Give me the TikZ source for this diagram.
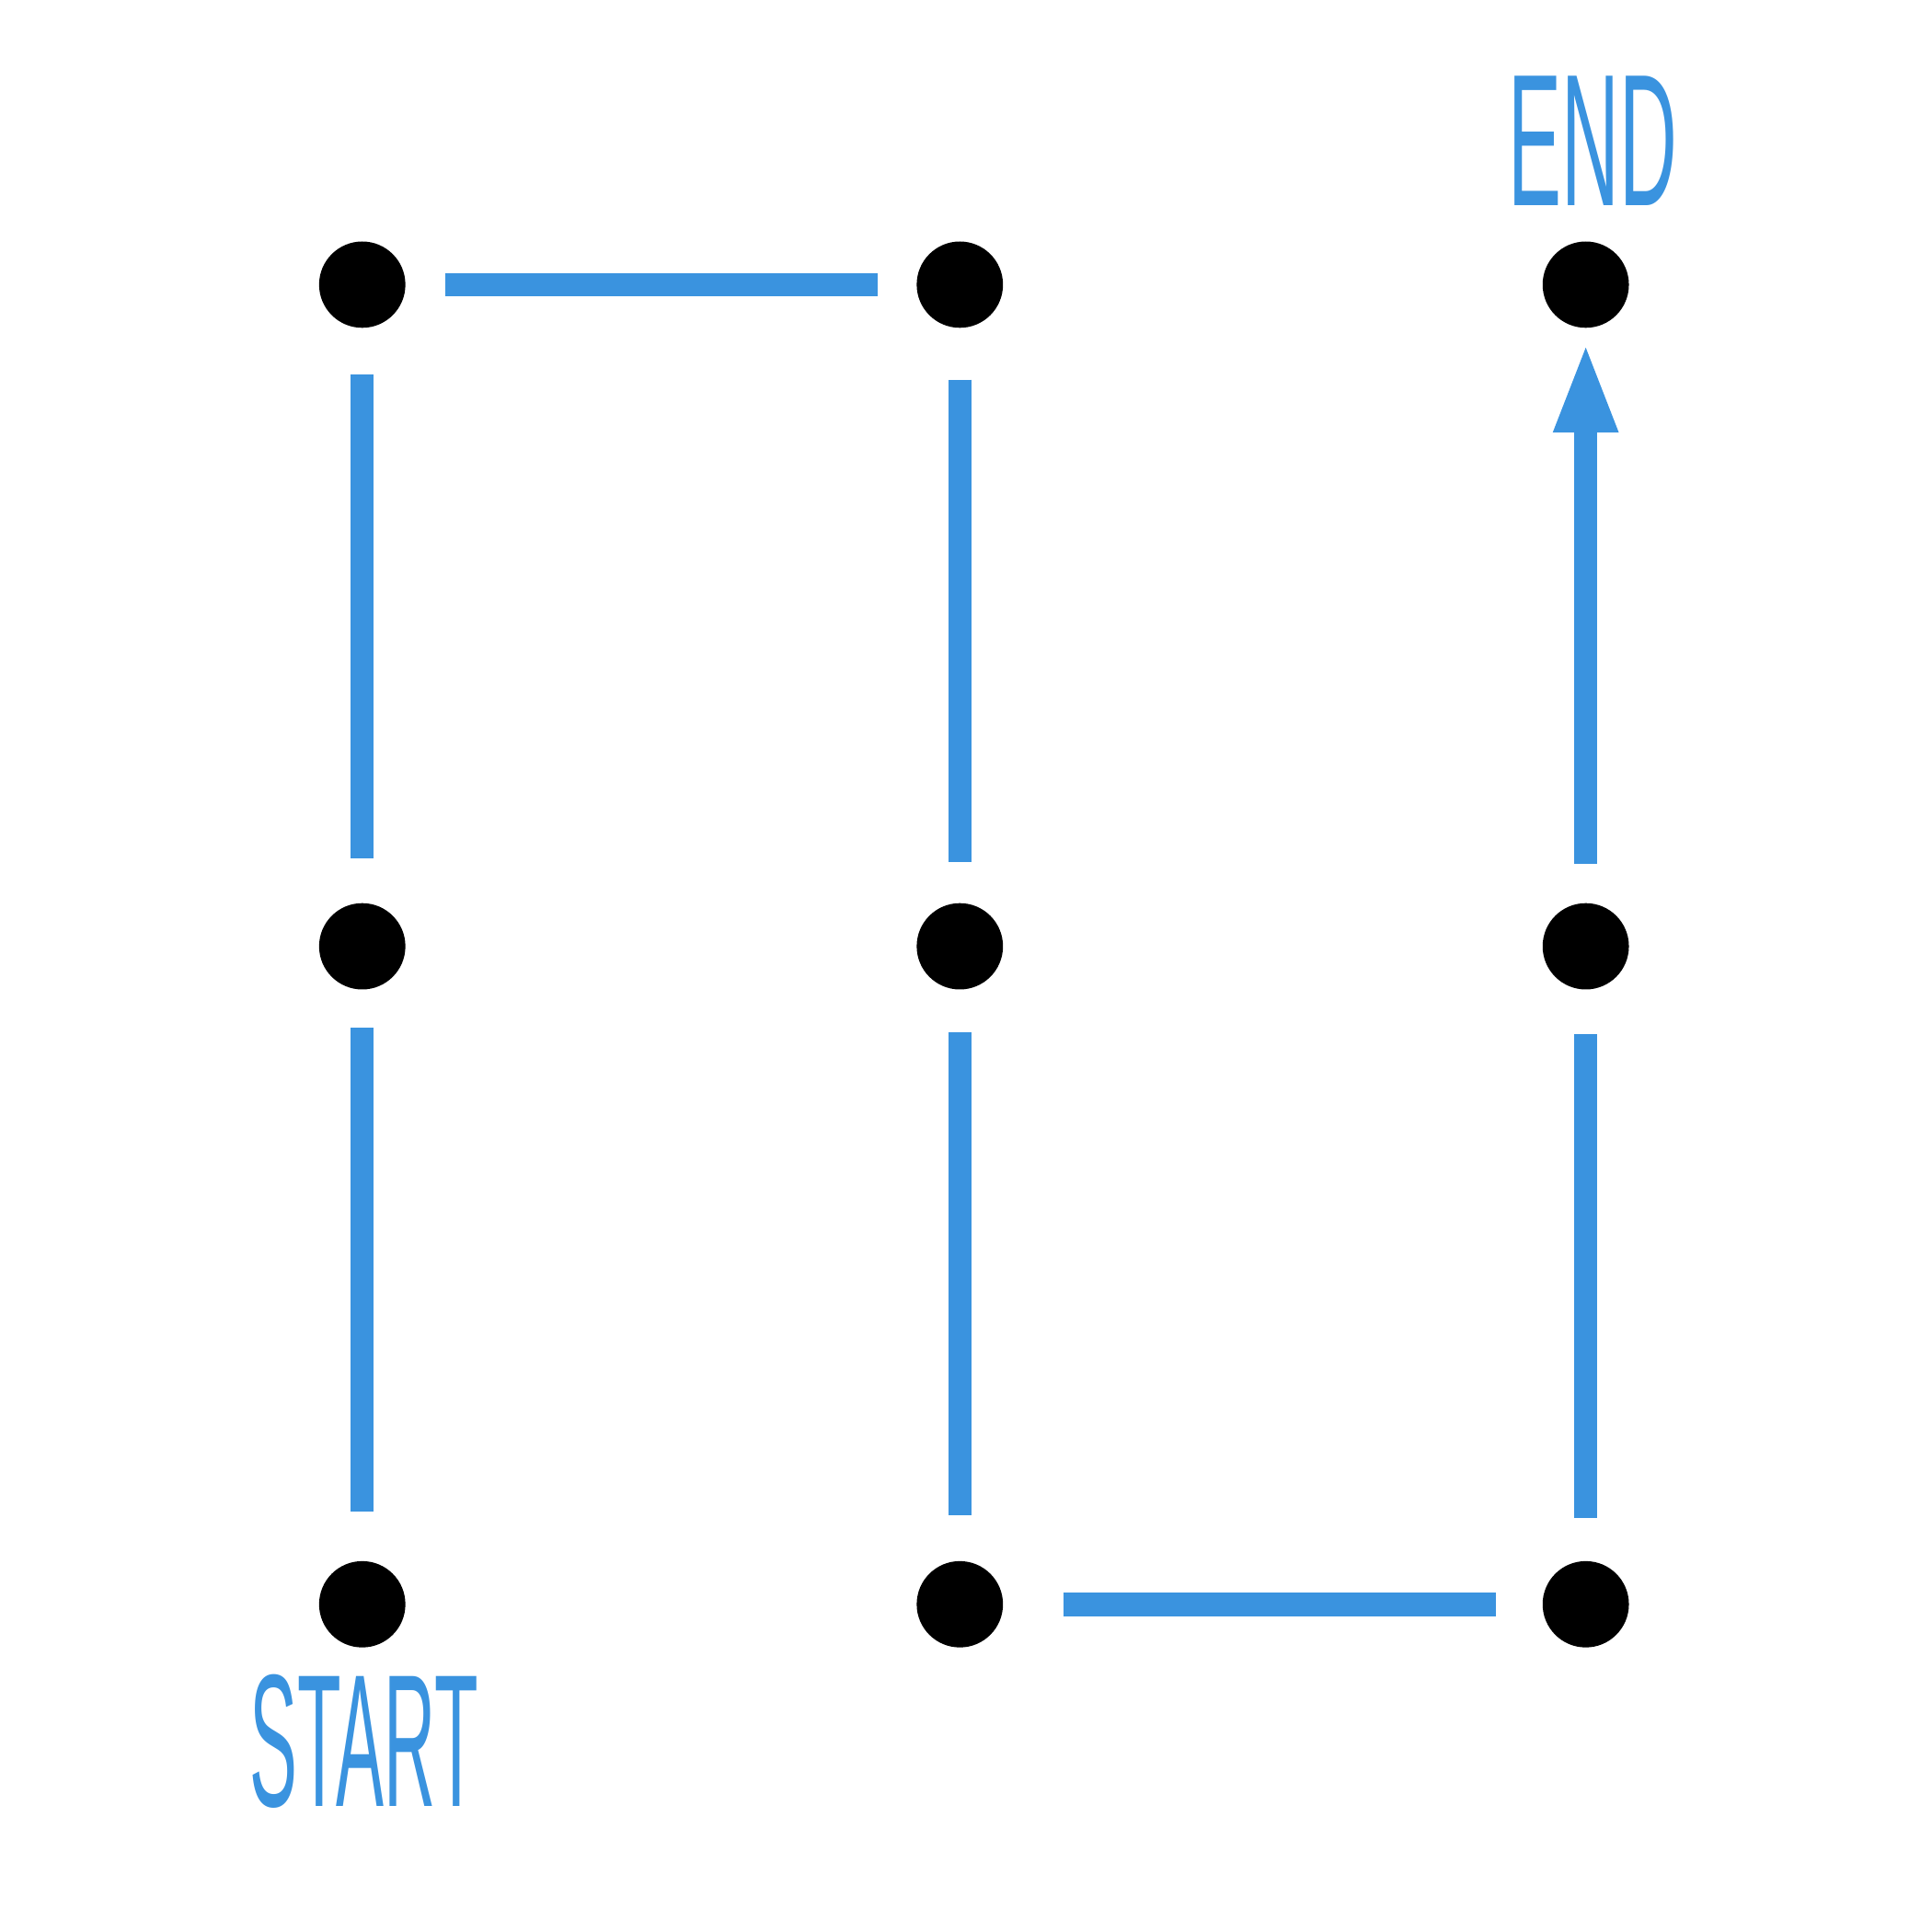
\documentclass[tikz,border=0pt]{standalone}
\usepackage{graphicx}
\usepackage{fontspec}
\setmainfont{Liberation Sans}
\usetikzlibrary{arrows.meta}
\definecolor{pathblue}{RGB}{58,147,223}
\begin{document}
\begin{tikzpicture}[x=0.01cm,y=-0.01cm,
  dot/.style={circle,fill=black,inner sep=0pt,outer sep=0pt,minimum size=0.7cm},
  conn/.style={draw=pathblue,line width=0.19cm},
  lbl/.style={text=pathblue,inner sep=0pt}]
\useasboundingbox (0,0) rectangle (1568,1568);
% dots
\node[dot] (t1) at (294,231) {};
\node[dot] (t2) at (779,231) {};
\node[dot] (t3) at (1287,231) {};
\node[dot] (m1) at (294,768) {};
\node[dot] (m2) at (779,768) {};
\node[dot] (m3) at (1287,768) {};
\node[dot] (b1) at (294,1302) {};
\node[dot] (b2) at (779,1302) {};
\node[dot] (b3) at (1287,1302) {};
% connectors
\draw[conn,shorten <=0.32cm,shorten >=0.32cm] (t1) -- (t2);
\draw[conn,shorten <=0.38cm,shorten >=0.36cm] (t1) -- (m1);
\draw[conn,shorten <=0.42cm,shorten >=0.33cm] (t2) -- (m2);
\draw[conn,shorten <=0.31cm,shorten >=0.40cm] (m1) -- (b1);
\draw[conn,shorten <=0.35cm,shorten >=0.37cm] (m2) -- (b2);
\draw[conn,shorten <=0.49cm,shorten >=0.38cm] (b2) -- (b3);
\draw[conn,shorten <=0.35cm,shorten >=0.36cm] (b3) -- (m3);
\draw[conn,shorten <=0.32cm,shorten >=0.11cm,-{Triangle[length=0.74cm,width=0.47cm]}] (m3) -- (t3);
% labels
\node[lbl] (endlbl) at (1293,114.5) {\resizebox{1.37cm}{1.05cm}{END}};
\node[lbl] (startlbl) at (295.5,1413.5) {\resizebox{1.85cm}{1.07cm}{START}};
\end{tikzpicture}
\end{document}
